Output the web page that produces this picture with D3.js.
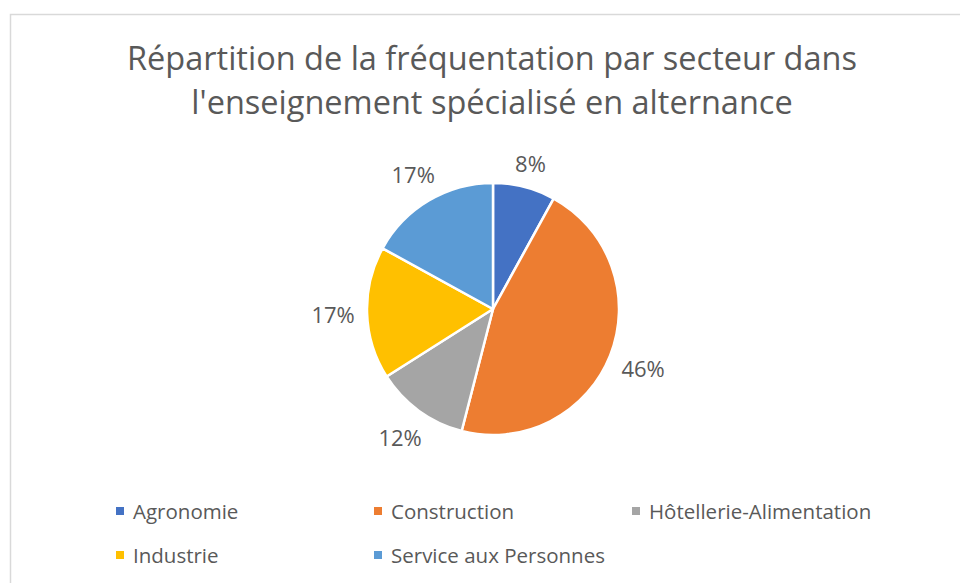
<!DOCTYPE html>
<html>
<head>
<meta charset="utf-8">
<script src="https://cdn.jsdelivr.net/npm/d3@7"></script>
<style>
  body { margin: 0; background: #fff; }
  svg text { font-family: "Open Sans", "Noto Sans", sans-serif; fill: #595959; }
</style>
</head>
<body>
<div id="chart"></div>
<script>
// ---------- data ----------
const categories = ["Agronomie", "Construction", "Hôtellerie-Alimentation", "Industrie", "Service aux Personnes"];
const shares = [8, 46, 12, 17, 17];
const colors = ["#4472C4", "#ED7D31", "#A5A5A5", "#FFC000", "#5B9BD5"];
const titleLines = ["Répartition de la fréquentation par secteur dans", "l'enseignement spécialisé en alternance"];

const W = 960, H = 583;
const cx = 493, cy = 309, radius = 126;

const svg = d3.select("#chart").append("svg")
  .attr("width", W)
  .attr("height", H);

// chart frame (runs off the right and bottom edges)
svg.append("rect")
  .attr("x", 10.5).attr("y", 14.5)
  .attr("width", 1000).attr("height", 1000)
  .attr("fill", "#fff")
  .attr("stroke", "#d9d9d9")
  .attr("stroke-width", 1.5);

// title
svg.append("g").selectAll("text")
  .data(titleLines)
  .join("text")
  .attr("x", 492)
  .attr("y", (d, i) => 70 + i * 44)
  .attr("text-anchor", "middle")
  .style("font-size", "32.5px")
  .text(d => d);

// pie
const pie = d3.pie().sort(null).value(d => d.v);
const arcs = pie(shares.map((v, i) => ({ v, i })));
const arc = d3.arc().innerRadius(0).outerRadius(radius);

const g = svg.append("g").attr("transform", `translate(${cx},${cy})`);

g.selectAll("path")
  .data(arcs)
  .join("path")
  .attr("d", arc)
  .attr("fill", d => colors[d.data.i])
  .attr("stroke", "#fff")
  .attr("stroke-width", 2.5)
  .attr("stroke-linejoin", "round");

// outside-end labels
const pad = 12;
g.selectAll("text.lbl")
  .data(arcs)
  .join("text")
  .attr("class", "lbl")
  .attr("text-anchor", "middle")
  .attr("dominant-baseline", "central")
  .style("font-size", "22px")
  .text(d => d.data.v + "%")
  .each(function (d) {
    const a = (d.startAngle + d.endAngle) / 2;
    const s = Math.sin(a), c = -Math.cos(a);
    const bb = this.getBBox();
    const dist = radius + pad + Math.abs(s) * bb.width / 2 + Math.abs(c) * bb.height / 2 * 0.6;
    d3.select(this).attr("x", s * dist).attr("y", c * dist);
  });

// legend
const legend = svg.append("g");
const item = legend.selectAll("g")
  .data(categories)
  .join("g")
  .attr("transform", (d, i) => `translate(${116 + (i % 3) * 258},${511 + Math.floor(i / 3) * 44})`);

item.append("rect")
  .attr("x", 0).attr("y", -4)
  .attr("width", 8).attr("height", 8)
  .attr("fill", (d, i) => colors[i]);

item.append("text")
  .attr("x", 17)
  .attr("y", 0)
  .attr("dominant-baseline", "central")
  .style("font-size", "20.5px")
  .text(d => d);
</script>
</body>
</html>
